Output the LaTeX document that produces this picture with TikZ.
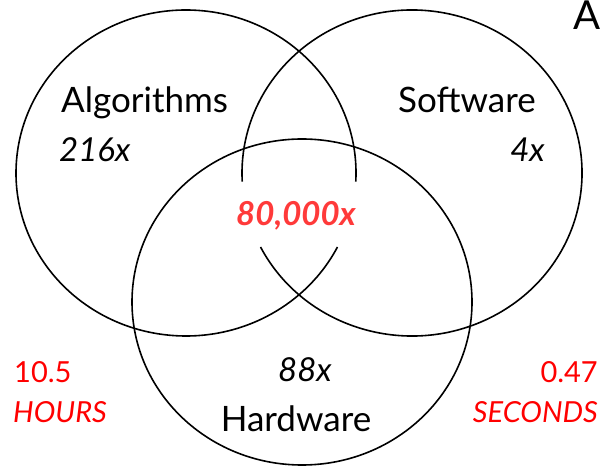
\documentclass[tikz,border=0pt]{standalone}
\usepackage{fontspec}
\setmainfont{Lato}
\definecolor{timered}{RGB}{255,0,0}
\definecolor{gainred}{RGB}{255,58,58}
\tikzset{
  setline/.style={line width=1.6pt, black},
  lbl/.style={inner sep=0pt, font=\fontsize{35}{35}\selectfont},
  factor/.style={inner sep=0pt, font=\fontsize{33}{33}\selectfont\itshape},
  total/.style={inner sep=0pt, font=\fontsize{33}{33}\selectfont\bfseries\itshape, text=gainred},
  timelbl/.style={inner sep=0pt, font=\fontsize{29}{29}\selectfont, text=timered},
  timeunit/.style={inner sep=0pt, font=\fontsize{29}{29}\selectfont\itshape, text=timered}
}
\begin{document}
\begin{tikzpicture}[x=1pt,y=1pt]
\useasboundingbox (0,0) rectangle (605,466);
\fill[white] (0,0) rectangle (605,466);

% centres of the three sets
\coordinate (alg) at (186,293);
\coordinate (sw)  at (412,293);
\coordinate (hw)  at (302,164);

% Algorithms set, open where it runs past the centre label
\draw[setline] ([shift={(-3:170pt and 163pt)}]alg)
  arc[start angle=-3, end angle=333, x radius=170pt, y radius=163pt];
% Software set, likewise open on its left side
\draw[setline] ([shift={(207:170pt and 163pt)}]sw)
  arc[start angle=207, end angle=543, x radius=170pt, y radius=163pt];
% Hardware set
\draw[setline] (hw) ellipse[x radius=170pt, y radius=163pt];

% labels
\node[lbl, anchor=base west] (algname) at (61,353) {Algorithms};
\node[factor, anchor=base west] (algx) at (59,304) {216x};
\node[lbl, anchor=base west] (swname) at (398,353) {Software};
\node[factor, anchor=base east] (swx) at (545,304) {4x};
\node[total, anchor=base] (all) at (296,240) {80,000x};
\node[factor, anchor=base] (hwx) at (305,84) {88x};
\node[lbl, anchor=base] (hwname) at (296,35) {Hardware};

\node[timelbl, anchor=base west] (before) at (14,83) {10.5};
\node[timeunit, anchor=base west] (beforeu) at (13,44) {HOURS};
\node[timelbl, anchor=base east] (after) at (598,83) {0.47};
\node[timeunit, anchor=base east] (afteru) at (598,44) {SECONDS};

\node[inner sep=0pt, anchor=base west, font=\fontsize{40}{40}\selectfont] (head) at (573,436) {A};
\end{tikzpicture}
\end{document}
